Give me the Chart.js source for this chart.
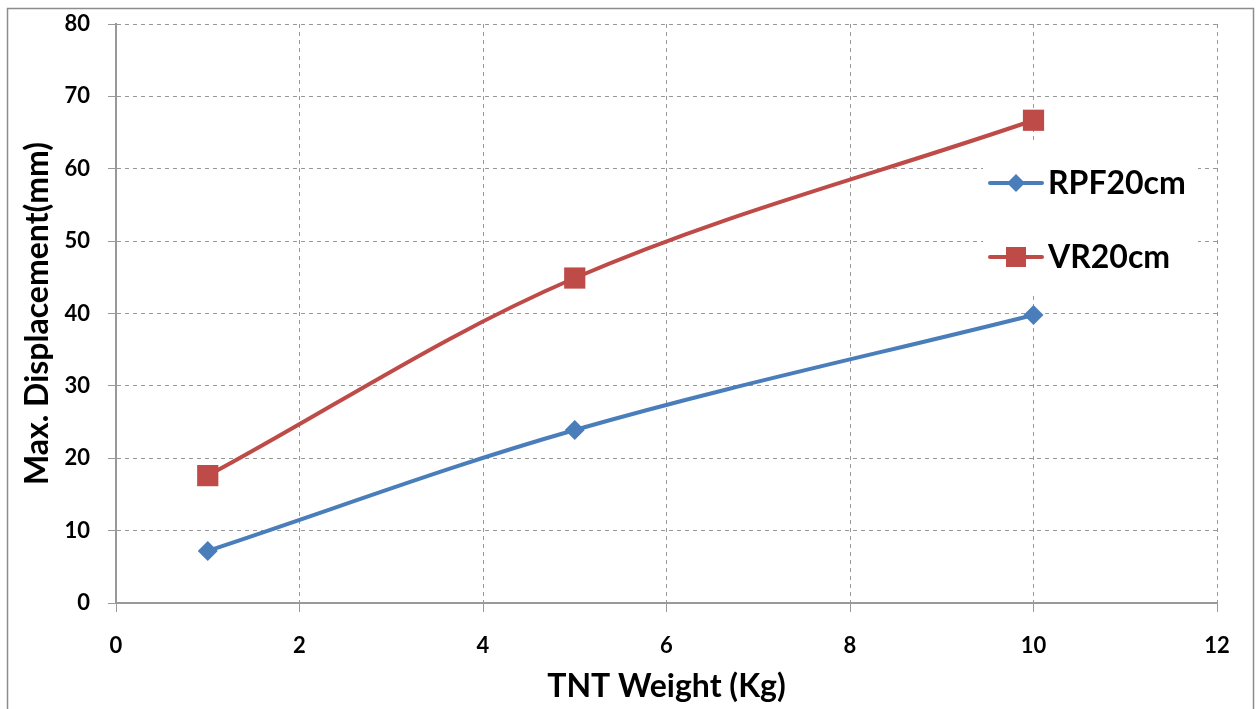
<!DOCTYPE html>
<html>
<head>
<meta charset="utf-8">
<script src="https://cdn.jsdelivr.net/npm/chart.js@4"></script>
<style>
html,body{margin:0;padding:0;background:#fff;}
#wrap{width:1259px;height:709px;position:relative;}
</style>
</head>
<body>
<div id="wrap"><canvas id="c" width="1259" height="709"></canvas></div>
<script>
const xValues = [1, 5, 10];
const rpfValues = [7.2, 23.9, 39.8];
const vrValues = [17.6, 44.9, 66.7];
const seriesNames = ['RPF20cm', 'VR20cm'];
const xTitle = 'TNT Weight (Kg)';
const yTitle = 'Max. Displacement(mm)';

const FONT = 'Lato, "Open Sans", sans-serif';
const BLUE = '#4A7EBB';
const RED = '#BE4B48';

const toPts = vals => vals.map((v, i) => ({x: xValues[i], y: v}));

const bgPlugin = {
  id: 'bg',
  beforeDraw(chart) {
    const ctx = chart.ctx;
    ctx.save();
    ctx.fillStyle = '#fff';
    ctx.fillRect(0, 0, chart.width, chart.height);
    ctx.restore();
  },
  afterDraw(chart) {
    const ctx = chart.ctx;
    ctx.save();
    ctx.strokeStyle = '#8c8c8c';
    ctx.lineWidth = 1.5;
    ctx.strokeRect(7.5, 8.5, 1246, 710);
    ctx.restore();
  }
};

const legendPlugin = {
  id: 'customLegend',
  afterDatasetsDraw(chart) {
    const ctx = chart.ctx;
    ctx.save();
    ctx.fillStyle = '#fff';
    ctx.fillRect(983, 143, 215, 151);
    const rows = [183, 257];
    chart.data.datasets.forEach((ds, i) => {
      const y = rows[i];
      ctx.strokeStyle = ds.borderColor;
      ctx.lineWidth = 4;
      ctx.lineCap = 'round';
      ctx.beginPath();
      ctx.moveTo(990, y);
      ctx.lineTo(1042, y);
      ctx.stroke();
      ctx.fillStyle = ds.backgroundColor;
      const cx = 1016;
      if (ds.pointStyle === 'rectRot') {
        ctx.beginPath();
        ctx.moveTo(cx, y - 9);
        ctx.lineTo(cx + 9, y);
        ctx.lineTo(cx, y + 9);
        ctx.lineTo(cx - 9, y);
        ctx.closePath();
        ctx.fill();
      } else {
        ctx.fillRect(cx - 10, y - 10, 20, 20);
      }
      ctx.fillStyle = '#000';
      ctx.font = 'bold 32px ' + FONT;
      ctx.textBaseline = 'middle';
      ctx.textAlign = 'left';
      ctx.fillText(ds.label, 1048, y + 1);
    });
    ctx.restore();
  }
};

new Chart(document.getElementById('c'), {
  type: 'line',
  data: {
    datasets: [
      {
        label: seriesNames[0],
        data: toPts(rpfValues),
        borderColor: BLUE,
        backgroundColor: BLUE,
        borderWidth: 4,
        pointStyle: 'rectRot',
        pointRadius: 10,
        pointHoverRadius: 10,
        pointBorderWidth: 0,
        tension: 0.35
      },
      {
        label: seriesNames[1],
        data: toPts(vrValues),
        borderColor: RED,
        backgroundColor: RED,
        borderWidth: 4,
        pointStyle: 'rect',
        pointRadius: 15,
        pointHoverRadius: 15,
        pointBorderWidth: 0,
        tension: 0.35
      }
    ]
  },
  options: {
    responsive: false,
    animation: false,
    events: [],
    layout: {padding: {top: 24, right: 42, left: 0, bottom: 0}},
    plugins: {
      legend: {display: false},
      tooltip: {enabled: false}
    },
    scales: {
      x: {
        type: 'linear',
        min: 0,
        max: 12,
        afterFit(s) { s.height = 106; s.paddingLeft = 0; s.paddingRight = 0; },
        ticks: {stepSize: 2, color: '#000', font: {family: FONT, size: 22, weight: 'bold'}, padding: 21, maxRotation: 0},
        grid: {color: '#999', lineWidth: 1, tickLength: 9, tickColor: '#999', tickBorderDash: []},
        border: {color: '#999', width: 2, dash: [4, 4]},
        title: {display: true, text: xTitle, color: '#000', font: {family: FONT, size: 32, weight: 'bold'}, padding: {top: 0, bottom: 3}}
      },
      y: {
        min: 0,
        max: 80,
        afterFit(s) { s.width = 116; s.paddingTop = 0; s.paddingBottom = 0; },
        ticks: {stepSize: 10, color: '#000', font: {family: FONT, size: 22, weight: 'bold'}, padding: 18},
        grid: {color: '#999', lineWidth: 1, tickLength: 8, tickColor: '#999', tickBorderDash: []},
        border: {color: '#999', width: 2, dash: [4, 4]},
        title: {display: true, text: yTitle, color: '#000', font: {family: FONT, size: 32, weight: 'bold'}, padding: {top: 18, bottom: 0}}
      }
    }
  },
  plugins: [bgPlugin, legendPlugin]
});
</script>
</body>
</html>
